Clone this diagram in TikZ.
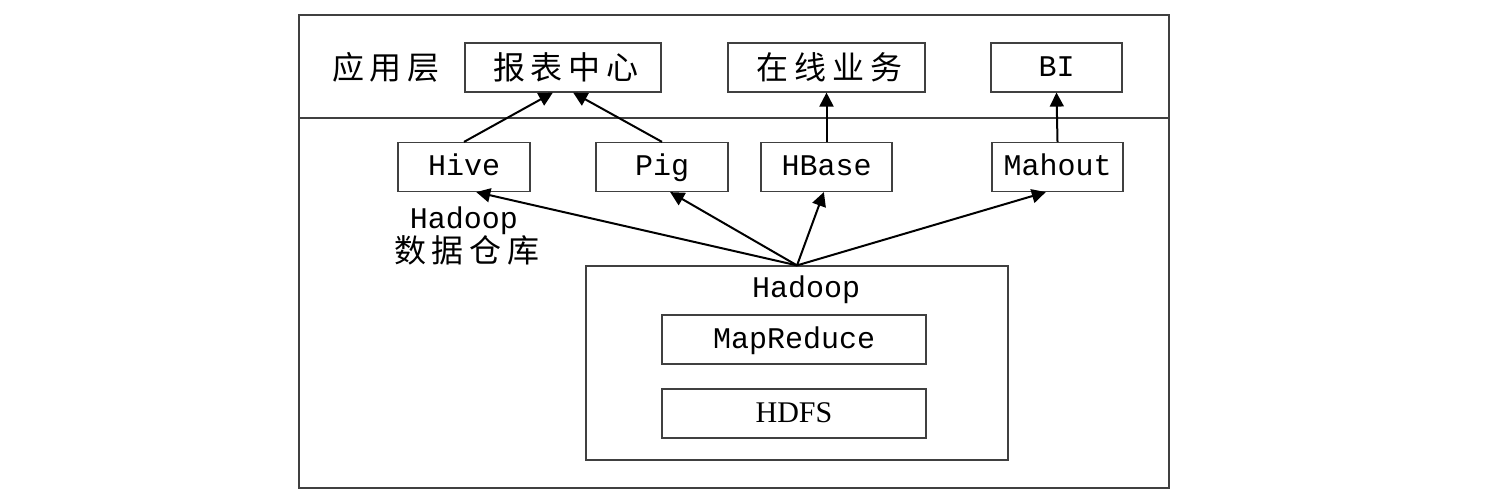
\documentclass[tikz,border=0pt]{standalone}
\usepackage{fontspec}
\setmainfont{Liberation Mono}
\newfontfamily\cjkfont[LetterSpace=18]{Noto Sans CJK SC}
\newfontfamily\timesf{Liberation Serif}
\newcommand\cjk{\cjkfont\fontsize{16}{19}\selectfont}
\usetikzlibrary{arrows.meta}
\tikzset{
  box/.style={draw=black!75,line width=0.6pt,inner sep=0pt,minimum height=24.5pt,
    text height=10.5pt,text depth=1.5pt,font=\fontsize{15}{18}\selectfont},
  cjkbox/.style={box,text height=13pt,text depth=1pt},
  label/.style={inner sep=0pt,font=\fontsize{15}{18}\selectfont},
  up/.style={line width=1pt,-{Triangle[length=7pt,width=7pt]}},
}
\begin{document}
\begin{tikzpicture}[x=0.5pt,y=-0.5pt]
  \useasboundingbox (0,0) rectangle (1491,501);
  % frame and layer line
  \draw[black!75,line width=0.75pt] (299,15) rectangle (1169,488);
  \draw[black!75,line width=0.75pt] (299,118) -- (1169,118);
  \node[label,text height=13pt,text depth=1pt] (layer) at (383,67.5) {\cjk 应用层\kern-2.9pt};
  % application layer
  \node[cjkbox,minimum width=98pt] (report) at (563,67.5) {\cjk 报表中心\kern-2.9pt};
  \node[cjkbox,minimum width=98.5pt] (online) at (826.5,67.5) {\cjk 在线业务\kern-2.9pt};
  \node[box,minimum width=65.5pt] (bi) at (1056.5,67.5) {BI};
  % tools
  \node[box,minimum width=66pt] (hive) at (464,167) {Hive};
  \node[box,minimum width=66pt] (pig) at (662,167) {Pig};
  \node[box,minimum width=65.5pt] (hbase) at (826.5,167) {HBase};
  \node[box,minimum width=65.5pt] (mahout) at (1057.5,167) {Mahout};
  \node[label,align=center] (dw) at (464,236) {Hadoop\\[-1pt]{\cjk 数据仓库\kern-2.9pt}};
  % hadoop core
  \node[box,minimum width=211pt,minimum height=97pt] (hadoop) at (797,363) {};
  \node[label] (hadooplbl) at (806,290) {Hadoop};
  \node[box,minimum width=132pt] (mr) at (794,339.5) {MapReduce};
  \node[box,minimum width=132pt] (hdfs) at (794,413.5) {\timesf HDFS};
  % arrows
  \draw[up] (hive.north) -- (report.-112);
  \draw[up] (pig.north) -- (report.-68);
  \draw[up] (hbase.north) -- (online.south);
  \draw[up] (mahout.north) -- (bi.south);
  \draw[up] (hadoop.north) -- (hive.-64);
  \draw[up] (hadoop.north) -- (pig.-72);
  \draw[up] (hadoop.north) -- (hbase.-96);
  \draw[up] (hadoop.north) -- (mahout.-115);
\end{tikzpicture}
\end{document}
